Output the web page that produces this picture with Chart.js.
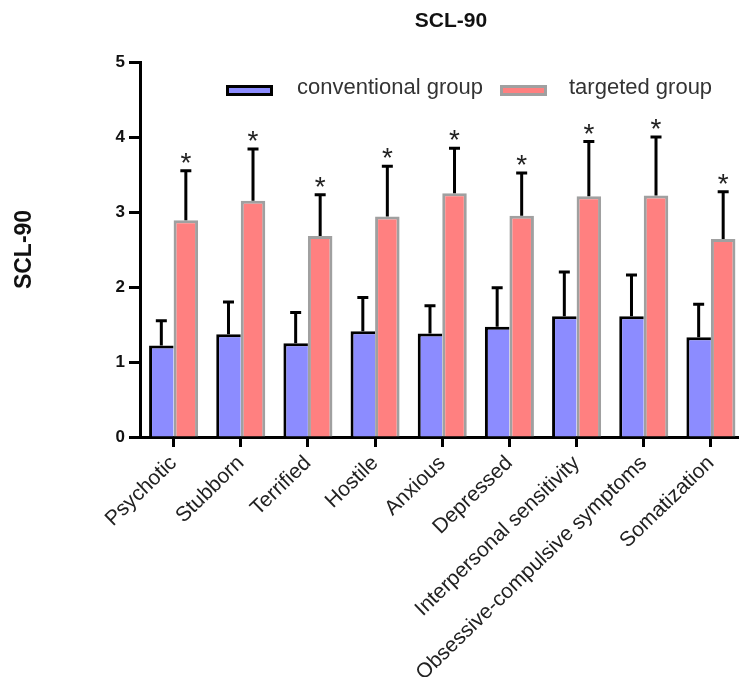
<!DOCTYPE html>
<html>
<head>
<meta charset="utf-8">
<title>SCL-90</title>
<script src="https://cdn.jsdelivr.net/npm/chart.js"></script>
<style>
  html, body { margin: 0; padding: 0; background: #fff; overflow: hidden; }
  #contenitore { position: relative; width: 746px; height: 677px; }
  .legenda { position: absolute; font-family: "Liberation Sans", Arial, sans-serif; font-size: 22px; color: #333; line-height: 1; white-space: nowrap; }
  .box { position: absolute; width: 47px; height: 11px; box-sizing: border-box; border: 3px solid #000; }
</style>
</head>
<body>
<div id="contenitore">
  <canvas id="grafico" width="746" height="677"></canvas>
  <div class="box" style="left:226px;top:85px;background:#8c8cff;border-color:#000;"></div>
  <div class="legenda" style="left:297px;top:76px;">conventional group</div>
  <div class="box" style="left:500px;top:85px;background:#ff8080;border-color:#a0a0a0;"></div>
  <div class="legenda" style="left:569px;top:76px;">targeted group</div>
</div>
<script>
// dati
var categorie = ['Psychotic', 'Stubborn', 'Terrified', 'Hostile', 'Anxious', 'Depressed',
    'Interpersonal sensitivity', 'Obsessive-compulsive symptoms', 'Somatization'];
var mediaConvenzionale = [1.22, 1.37, 1.25, 1.41, 1.38, 1.47, 1.61, 1.61, 1.33];
var dsConvenzionale = [0.33, 0.43, 0.41, 0.45, 0.37, 0.52, 0.59, 0.55, 0.44];
var mediaMirato = [2.89, 3.15, 2.68, 2.94, 3.25, 2.95, 3.21, 3.22, 2.64];
var dsMirato = [0.66, 0.69, 0.55, 0.67, 0.60, 0.57, 0.73, 0.78, 0.63];
var tickAsseY = [0, 1, 2, 3, 4, 5];

// Plugin per le barre di errore e gli asterischi
var pluginBarreErrore = {
    id: 'barreErrore',
    afterDatasetsDraw: function(chart) {
        var ctx = chart.ctx;
        var scalaY = chart.scales.y;
        chart.data.datasets.forEach(function(ds, i) {
            var meta = chart.getDatasetMeta(i);
            meta.data.forEach(function(barra, j) {
                var cima = scalaY.getPixelForValue(ds.data[j] + ds.errori[j]);
                ctx.save();
                ctx.strokeStyle = '#000';
                ctx.lineWidth = 3;
                ctx.beginPath();
                ctx.moveTo(barra.x, barra.y);
                ctx.lineTo(barra.x, cima);
                ctx.moveTo(barra.x - 5.5, cima);
                ctx.lineTo(barra.x + 5.5, cima);
                ctx.stroke();
                if (ds.stella) {
                    ctx.fillStyle = '#222';
                    ctx.font = '28px "Liberation Sans"';
                    ctx.textAlign = 'center';
                    ctx.textBaseline = 'alphabetic';
                    ctx.fillText('*', barra.x, cima + 1);
                }
                ctx.restore();
            });
        });
    }
};

// titolo in alto
var pluginTitolo = {
    id: 'titolo',
    afterDraw: function(chart) {
        var ctx = chart.ctx;
        ctx.save();
        ctx.fillStyle = '#111';
        ctx.font = 'bold 21px "Liberation Sans"';
        ctx.textAlign = 'center';
        ctx.textBaseline = 'middle';
        ctx.fillText('SCL-90', 451, 21);
        ctx.restore();
    }
};

var ctx = document.getElementById('grafico').getContext('2d');
var grafico = new Chart(ctx, {
    type: 'bar',
    data: {
        labels: categorie,
        datasets: [{
            label: 'conventional group',
            data: mediaConvenzionale,
            errori: dsConvenzionale,
            stella: false,
            backgroundColor: '#8c8cff',
            borderColor: '#000',
            borderWidth: { top: 3, left: 3, right: 0, bottom: 0 },
            borderSkipped: false
        }, {
            label: 'targeted group',
            data: mediaMirato,
            errori: dsMirato,
            stella: true,
            backgroundColor: '#ff8080',
            borderColor: '#a0a0a0',
            borderWidth: { top: 3, left: 3, right: 3, bottom: 0 },
            borderSkipped: false
        }]
    },
    options: {
        responsive: false,
        animation: false,
        layout: { padding: { top: 62, right: 1.5, bottom: 0, left: 0 } },
        datasets: { bar: { categoryPercentage: 0.73, barPercentage: 1.0 } },
        plugins: {
            legend: { display: false },
            tooltip: { enabled: false }
        },
        scales: {
            x: {
                afterFit: function(s) { s.height = 240; },
                border: { color: '#000', width: 3 },
                grid: { drawOnChartArea: false, offset: false, tickLength: 10, tickWidth: 3, tickColor: '#000' },
                ticks: {
                    color: '#222',
                    font: { family: 'Liberation Sans', size: 21 },
                    minRotation: 44,
                    maxRotation: 44,
                    autoSkip: false,
                    padding: 4
                }
            },
            y: {
                min: 0,
                max: 5,
                afterFit: function(s) { s.width = 140; },
                afterBuildTicks: function(s) {
                    s.ticks = tickAsseY.map(function(v) { return { value: v }; });
                },
                border: { color: '#000', width: 3 },
                grid: { drawOnChartArea: false, tickLength: 11, tickWidth: 3, tickColor: '#000' },
                ticks: {
                    color: '#111',
                    font: { family: 'Liberation Sans', size: 17, weight: 'bold' },
                    padding: 4
                },
                title: {
                    display: true,
                    text: 'SCL-90',
                    color: '#111',
                    font: { family: 'Liberation Sans', size: 23, weight: 'bold' },
                    padding: { top: 11, bottom: 0 }
                }
            }
        }
    },
    plugins: [pluginBarreErrore, pluginTitolo]
});
</script>
</body>
</html>
